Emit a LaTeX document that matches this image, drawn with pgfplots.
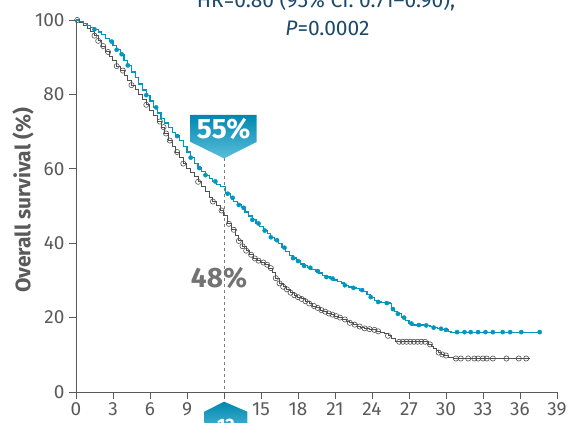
\documentclass[border=0pt]{standalone}
\usepackage{fontspec}
\setmainfont{Fira Sans}
\usepackage{pgfplots}
\pgfplotsset{compat=1.18}
\definecolor{kmblue}{RGB}{0,150,190}
\definecolor{kmgray}{RGB}{80,80,80}
\definecolor{axgray}{RGB}{90,90,90}
\definecolor{titleblue}{RGB}{28,74,107}
\definecolor{boxtop}{RGB}{0,135,175}
\definecolor{boxbot}{RGB}{90,190,218}
\begin{document}
\begin{tikzpicture}[x=1pt,y=1pt]
\useasboundingbox (0,0) rectangle (571,423);
\begin{axis}[
  at={(76pt,31pt)}, anchor=south west,
  scale only axis, width=481pt, height=372pt,
  xmin=0, xmax=39, ymin=0, ymax=100,
  axis lines*=left,
  axis line style={axgray, line width=0.9pt},
  every tick/.style={axgray, line width=0.9pt},
  tick align=outside, major tick length=7pt,
  xtick={0,3,6,9,12,15,18,21,24,27,30,33,36,39},
  xticklabels={0,3,6,9,,15,18,21,24,27,30,33,36,39},
  ytick={0,20,40,60,80,100},
  /pgf/number format/assume math mode=true,
  tick label style={font=\fontsize{19}{22}\selectfont, text=axgray},
  xticklabel style={yshift=0pt},
  yticklabel style={xshift=-1pt},
  ylabel={\bfseries Overall survival (\%)},
  ylabel style={at={(axis description cs:-0.11,0.515)}, anchor=center, rotate=0, font=\fontsize{21}{24}\selectfont, text=axgray},
  clip=false,
]
% gray (control) step curve
\addplot[const plot, kmgray, line width=1.0pt] coordinates {
(0,100)(0.3,99.3)(0.6,98.6)(0.9,97.8)(1.2,96.8)(1.5,95.8)(1.8,94.4)(2.1,93)(2.4,91.4)(2.7,90.2)(3.0,89)(3.3,87.6)(3.6,86.4)(3.9,85.2)(4.2,83.8)(4.5,82.5)(4.8,81.2)(5.1,79.9)(5.4,78.5)(5.7,77.2)(6.0,75.7)(6.3,74.2)(6.6,72.7)(6.9,71.2)(7.2,69.5)(7.5,67.6)(7.8,66)(8.1,64.5)(8.4,63)(8.7,61.4)(9.0,60.2)(9.3,59)(9.6,57.8)(9.9,56.5)(10.2,55.2)(10.5,53.8)(10.8,52.4)(11.1,51.2)(11.4,50)(11.7,48.8)(12.0,47.5)(12.3,45.2)(12.6,43.6)(12.9,42.2)(13.2,40.6)(13.5,39.2)(13.8,38)(14.1,36.9)(14.4,35.9)(14.7,35.3)(15.0,34.8)(15.3,34.2)(15.6,33.3)(15.9,32)(16.2,30.6)(16.5,29.2)(16.8,28.3)(17.1,27.6)(17.4,26.7)(17.7,26)(18.0,25.5)(18.3,25)(18.6,24.4)(18.9,23.8)(19.2,23.1)(19.5,22.6)(19.8,22)(20.1,21.6)(20.4,21.1)(20.7,20.8)(21.0,20.4)(21.3,20)(21.6,19.5)(21.9,19)(22.2,18.6)(22.5,18.1)(22.8,17.6)(23.1,17.3)(23.4,17.1)(23.8,16.9)(24.1,16.7)(24.4,16.3)(24.7,16)(25.0,15.6)(25.3,15.1)(25.6,14.4)(25.9,13.7)(26.1,13.5)(28.4,13.5)(28.6,12.8)(28.8,12.1)(29.0,11.6)(29.2,11.1)(29.4,10.6)(29.6,10.1)(29.9,9.8)(30.2,9.4)(30.6,9.0)(36.8,9.0)
};
\addplot[only marks, mark=o, mark size=2.6pt, mark options={kmgray, line width=0.6pt}] coordinates {
(0.1,100)(1.5,95.8)(1.8,94.4)(2.2,93)(2.6,91.4)(3.3,87.6)(3.8,86.4)(4.5,82.5)(5.7,77.2)(6.8,72.7)(7.1,71.2)(7.3,69.5)(7.6,67.6)(8.2,64.5)(8.7,61.4)(9.9,56.5)(11.1,51.2)(11.8,48.8)(12.4,45.2)(12.8,43.6)(13.2,40.6)(13.5,39.2)(13.8,38)(14.2,36.9)(14.5,35.9)(14.8,35.3)(15.2,34.8)(15.5,34.2)(15.8,33.3)(16.2,30.6)(16.5,29.2)(16.8,28.3)(17.1,27.6)(17.4,26.7)(17.7,26)(18.0,25.5)(18.3,25)(18.6,24.4)(18.9,23.8)(19.3,23.1)(19.6,22.6)(19.9,22)(20.2,21.6)(20.5,21.1)(20.8,20.8)(21.1,20.4)(21.4,20)(21.8,19.5)(22.2,18.6)(22.6,18.1)(23.0,17.6)(23.4,17.1)(23.8,16.9)(24.2,16.7)(24.5,16.3)(25.3,15.1)(26.2,13.5)(26.5,13.5)(26.8,13.5)(27.1,13.5)(27.4,13.5)(27.7,13.5)(28.0,13.5)(28.3,13.5)(28.7,12.8)(29.4,10.6)(29.7,10.1)(30.0,9.8)(30.8,9)(31.2,9)(31.8,9)(32.3,9)(32.6,9)(33,9)(33.3,9)(33.8,9)(34.9,9)(35.9,9)(36.5,9)
};
% blue (treatment) step curve
\addplot[const plot, kmblue, line width=1.2pt] coordinates {
(0,100)(0.3,99.5)(0.6,99)(0.9,98.5)(1.2,98)(1.5,97.5)(1.8,96.8)(2.1,96)(2.4,95)(2.7,94.2)(3.0,93.2)(3.3,92)(3.6,90.8)(3.9,89.2)(4.2,87.8)(4.5,86)(4.8,84.5)(5.1,82.8)(5.4,81.2)(5.7,79.8)(6.0,78.2)(6.3,76.5)(6.6,75)(6.9,73.6)(7.2,72.3)(7.5,71)(7.8,69.8)(8.1,68.8)(8.4,67.5)(8.7,66)(9.0,64.5)(9.3,63)(9.6,61.5)(9.9,60.2)(10.2,59.2)(10.5,58.3)(10.8,57.4)(11.1,56.6)(11.4,55.8)(11.7,55.3)(12.15,53.3)(12.5,52.2)(12.8,51.3)(13.1,50.3)(13.4,49.5)(13.7,48.4)(14.0,47.3)(14.3,46.3)(14.6,45.3)(14.9,44.4)(15.2,43.4)(15.5,42.5)(15.8,41.6)(16.1,40.8)(16.4,40)(16.7,38.8)(17.0,37.8)(17.3,36.8)(17.6,36)(17.9,35.2)(18.2,34.4)(18.5,33.9)(18.8,33.4)(19.1,33)(19.4,32.5)(19.7,32)(20.0,31.4)(20.3,30.9)(20.6,30.5)(20.9,30.1)(21.2,29.7)(21.5,29.3)(21.8,28.7)(22.1,28.2)(22.4,28)(22.7,27.8)(23.0,27.4)(23.3,27)(23.6,26.3)(23.9,25.5)(24.2,24.7)(24.5,24.2)(24.8,24)(25.1,23.9)(25.5,23.8)(25.6,22.3)(25.8,21.7)(26.1,21)(26.4,20)(26.7,19.2)(27.0,18.4)(27.3,18)(28.4,17.9)(28.7,17.6)(29.0,17.3)(29.3,17)(29.7,16.7)(30.2,16.3)(30.4,16.1)(37.6,16.1)
};
\addplot[only marks, mark=*, mark size=2.1pt, mark options={kmblue, draw=kmblue}] coordinates {
(1.5,97.5)(2.9,94.2)(3.3,92)(3.7,90.8)(4.2,87.8)(5.7,79.8)(6.5,76.5)(8.2,68.8)(9.3,63)(10,60.2)(10.5,58.3)(11.3,56.6)(12.3,53.3)(12.7,52.2)(13.2,50.3)(13.6,49.5)(14.3,46.3)(14.8,45.3)(15.3,43.4)(15.8,41.6)(16.3,40.8)(16.9,38.8)(17.6,36)(18,35.2)(18.5,33.9)(19,33.4)(19.6,32.5)(20.3,30.9)(20.8,30.5)(21.8,28.7)(22.5,28)(23.2,27.4)(23.9,25.5)(24.5,24.2)(25.2,23.9)(25.7,22.3)(26.1,21)(26.6,20)(27.2,18.4)(27.8,18)(28.4,17.9)(29,17.3)(29.6,17)(30,16.7)(30.9,16.1)(31.5,16.1)(32,16.1)(32.6,16.1)(33.2,16.1)(33.8,16.1)(34.6,16.1)(35.2,16.1)(36.1,16.1)(37.6,16.1)
};
% annotations
\draw[axgray!80, line width=0.9pt, dash pattern=on 3pt off 3pt] (axis cs:12,62.8) -- (axis cs:12,0);
\shade[top color=boxtop, bottom color=boxbot] (axis cs:9.3,74.5) -- (axis cs:14.65,74.5) -- (axis cs:14.65,67.2) -- (axis cs:12,62.8) -- (axis cs:9.3,67.2) -- cycle;
\node[text=white, font=\bfseries\fontsize{28}{30}\selectfont] at (axis cs:11.97,70.6) {55\%};
\node[text=axgray!85, font=\bfseries\fontsize{28}{30}\selectfont] at (axis cs:11.6,30.6) {48\%};
\shade[top color=boxtop, bottom color=boxbot] (axis cs:12,-2.6) -- (axis cs:13.9,-5.3) -- (axis cs:13.9,-12) -- (axis cs:10.4,-12) -- (axis cs:10.4,-5.3) -- cycle;
\node[text=white, font=\bfseries\fontsize{18}{20}\selectfont, anchor=base] at (axis cs:12.15,-10.6) {12};
\end{axis}
\node[text=titleblue, font=\fontsize{21}{24}\selectfont, anchor=base] at (326,415) {HR=0.80 (95\% CI: 0.71–0.90);};
\node[text=titleblue, font=\fontsize{21}{24}\selectfont, anchor=base] at (327.5,387) {\textit{P}=0.0002};
\end{tikzpicture}
\end{document}
